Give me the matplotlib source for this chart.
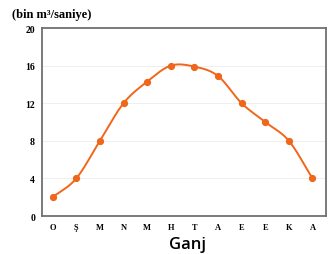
import matplotlib.pyplot as plt
import numpy as np

months = ["O", "Ş", "M", "N", "M", "H", "T", "A", "E", "E", "K", "A"]
flow = [2, 4, 8, 12, 14.3, 16, 15.9, 14.9, 12, 10, 8, 4]
yticks = [0, 4, 8, 12, 16, 20]

orange = "#f0661a"
serif = "Liberation Serif"


def smooth(xs, ys, n=20):
    # catmull-rom through the points, just for drawing the curve
    xs = np.asarray(xs, float)
    ys = np.asarray(ys, float)
    px = np.concatenate([[2 * xs[0] - xs[1]], xs, [2 * xs[-1] - xs[-2]]])
    py = np.concatenate([[2 * ys[0] - ys[1]], ys, [2 * ys[-1] - ys[-2]]])
    outx, outy = [], []
    t = np.linspace(0, 1, n, endpoint=False)
    for k in range(1, len(px) - 2):
        for p, o in ((px, outx), (py, outy)):
            p0, p1, p2, p3 = p[k - 1], p[k], p[k + 1], p[k + 2]
            o.extend(0.5 * (2 * p1 + (-p0 + p2) * t
                            + (2 * p0 - 5 * p1 + 4 * p2 - p3) * t ** 2
                            + (-p0 + 3 * p1 - 3 * p2 + p3) * t ** 3))
    outx.append(xs[-1])
    outy.append(ys[-1])
    return outx, outy


fig = plt.figure(figsize=(3.35, 2.55), dpi=100)
ax = fig.add_axes([0.1254, 0.149, 0.8476, 0.737])

x = np.arange(len(months))
sx, sy = smooth(x, flow)
ax.plot(sx, sy, color=orange, linewidth=1.4, zorder=3)
ax.plot(x, flow, "o", color=orange, markersize=4.2, zorder=4)

ax.set_xlim(-0.45, 11.57)
ax.set_ylim(0, 20)
ax.set_yticks(yticks)
ax.set_xticks(x)
ax.set_xticklabels(months)
for v in yticks[1:-1]:
    ax.axhline(v, color="#ededed", linewidth=0.6, zorder=1)

ax.tick_params(length=0, pad=5)
for lab in ax.get_yticklabels():
    lab.set_fontfamily(serif)
    lab.set_fontweight("bold")
    lab.set_fontsize(7)
for lab in ax.get_xticklabels():
    lab.set_fontfamily(serif)
    lab.set_fontweight("bold")
    lab.set_fontsize(6)

for s in ax.spines.values():
    s.set_color("#707070")
    s.set_linewidth(1.3)

fig.text(0.036, 0.94, "(bin m³/saniye)", fontfamily=serif, fontweight="bold",
         fontsize=9, ha="left", va="center")
fig.text(0.56, 0.04, "Ganj", fontfamily="Open Sans", fontweight="semibold",
         fontsize=12, ha="center", va="center")

fig.savefig("out.png", dpi=100)
